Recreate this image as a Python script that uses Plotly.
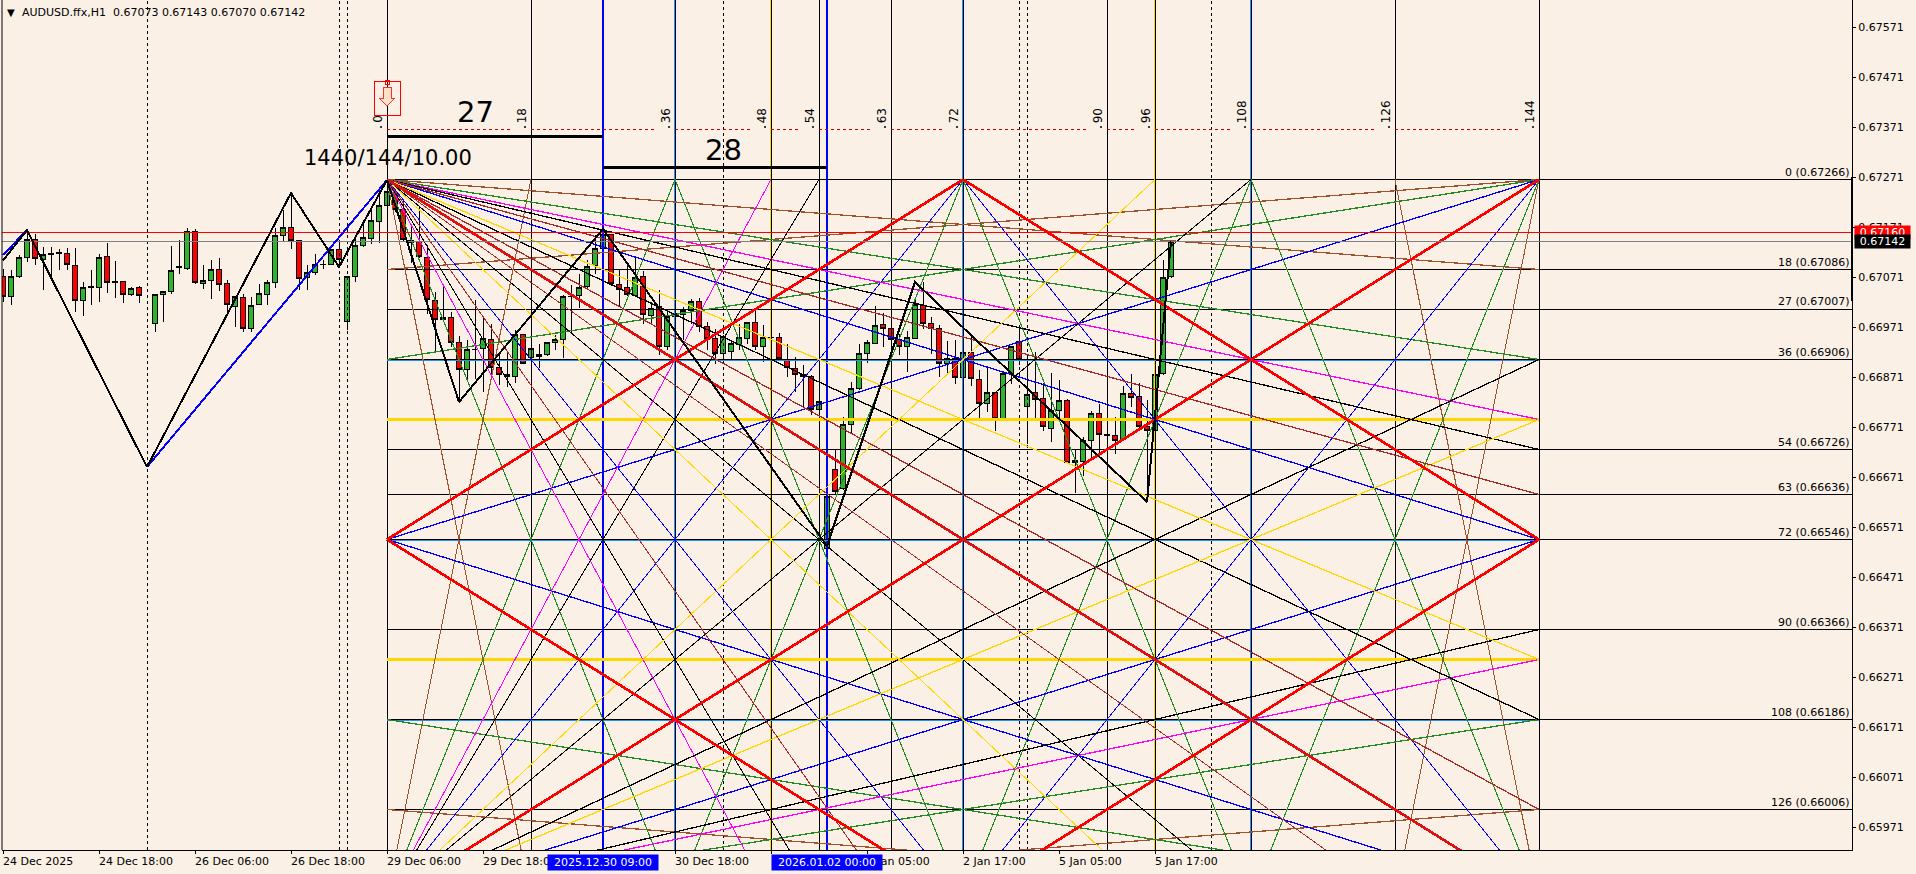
import plotly.graph_objects as go

# ---------- candles (price in 1e-5 units, H1 bars) ----------
opens = [67072,67032,67072,67110,67146,67106,67117,67120,67118,67094,67024,67051,67050,67112,67062,67062,67036,67050,None,
66978,67036,67042,67091,67089,67162,67058,67064,67086,67058,67012,67030,66968,67016,67036,67060,67154,67170,67144,67070,67080,67096,67096,67126,
66982,67072,67134,67148,67182,67214,67240,67206,67145,67143,67110,67024,66986,66991,66940,66886,66926,66928,66946,66890,66876,66872,66956,66910,
66916,66916,66940,66946,67032,67034,67052,67094,67128,67156,67056,67050,67034,67072,66995,67012,66932,66992,66997,67004,67022,66972,66948,66918,
66922,66937,66948,66980,66933,66950,66950,66906,66888,66876,66872,66806,66528,66686,66648,66776,66848,66918,66938,66976,66968,66946,66932,66949,
67014,66978,66968,66898,66908,66870,66920,66866,66818,66840,66788,66878,66942,66813,66841,66828,66768,66804,66824,66700,66702,66745,66798,66756,
66754,66746,66838,66832,66772,66765,66878,67073]
highs = [67088,67085,67115,67165,67158,67132,67132,67128,67130,67130,67062,67086,67118,67140,67103,67062,67052,67053,None,
67038,67044,67133,67145,67170,67168,67096,67105,67109,67066,67034,67037,67032,67057,67065,67170,67205,67238,67146,67096,67117,67105,67128,67145,
67074,67150,67178,67205,67235,67265,67245,67225,67172,67212,67135,67042,67052,67002,66953,66946,67025,66992,66978,66922,66922,66966,66958,66932,
66938,66942,66955,67035,67055,67078,67105,67155,67166,67158,67085,67097,67112,67084,67021,67045,67002,66998,67012,67028,67030,66982,66968,66955,
66945,66978,66982,67005,66975,66972,66960,66937,66912,66895,66875,66825,66640,66726,66792,66862,66938,66946,67013,66999,66972,66958,66963,67025,
67062,66992,66975,66944,66945,66928,66952,66886,66890,66840,66880,66933,66970,66915,66922,66860,66880,66866,66828,66728,66752,66804,66818,66757,
66792,66853,66877,66860,66825,66878,67105,67143]
lows = [67022,67015,67070,67102,67095,67045,67072,67085,67085,67002,66993,67015,67022,67040,67030,67020,67034,67020,None,
66962,66982,67038,67077,67085,67058,67047,67027,67044,66995,66972,66962,66962,67015,67015,67050,67144,67127,67046,67045,67076,67088,67095,67093,
66965,67062,67132,67138,67140,67214,67202,67142,67100,67110,66998,66922,66982,66932,66822,66865,66868,66842,66872,66855,66852,66860,66898,66895,
66890,66913,66925,66910,66958,67010,67048,67078,67125,67053,67013,67033,67032,66977,66975,66915,66925,66932,66945,66978,66962,66925,66898,66908,
66908,66925,66938,66925,66902,66922,66905,66872,66842,66812,66795,66805,66512,66637,66646,66758,66846,66900,66937,66932,66922,66915,66882,66948,
66968,66918,66872,66875,66858,66868,66854,66786,66802,66764,66785,66858,66895,66738,66788,66764,66742,66785,66698,66640,66673,66705,66715,66753,
66718,66745,66812,66770,66625,66764,66875,67070]
closes = [67032,67073,67110,67146,67108,67116,67118,67119,67096,67024,67050,67052,67110,67060,67061,67036,67048,67034,None,
67037,67042,67084,67092,67162,67060,67064,67086,67056,67016,67032,66968,67014,67038,67060,67154,67170,67144,67068,67080,67096,67097,67126,67106,
67072,67134,67150,67184,67214,67242,67206,67146,67141,67113,67026,66986,66991,66940,66886,66926,66927,66948,66890,66876,66872,66956,66898,66928,
66912,66940,66947,67032,67033,67050,67092,67128,67156,67058,67046,67036,67070,66996,67008,66932,66992,66998,67004,67022,66973,66948,66918,66952,
66938,66950,66980,66933,66950,66951,66908,66890,66876,66872,66806,66822,66633,66642,66776,66848,66918,66941,66974,66968,66946,66932,66950,67017,
66978,66968,66898,66908,66870,66920,66868,66818,66840,66788,66878,66932,66906,66837,66826,66773,66804,66824,66700,66704,66745,66798,66756,66754,
66745,66838,66830,66772,66765,66876,67070,67142]

# ---------- zigzag ----------
zig_bars = [0,3,18,36,42,48,57,75,103,114,143,146]
zig_prices = [67104,67165,66691,67239,67091,67265,66821,67167,66533,67061,66621,67142]
blue_bars = [0,3,None,18,48]
blue_prices = [67115,67165,None,66691,67265]

# ---------- Gann square (bars from start, levels down from top) ----------
START_BAR = 48
TOP_PRICE = 67266
SIDE = 144
corner_ratios = {"#A0522D": [18], "#228B22": [36], "#0000FF": [72]}
left_ratios = {"#FF00FF": [48], "#000000": [54, 108], "#FFD700": [96]}
origin_ratios = {"#A52A2A": [63, 126]}
green_inner = [(36,0,72,144),(72,0,36,144),(72,0,108,144),(108,0,72,144)]
diamond = [(0,72,72,0),(72,0,144,72),(144,72,72,144),(72,144,0,72),(144,0,0,144)]
main_diagonal = (0,0,144,144)

vert_black = [0,18,54,63,90,108,126,144,36,72]
vert_dodger = [36,72,108]
vert_gold = [48,96]
vert_blue = [27,55]
dashed_bars = [18,42,43,90,127,128,151]
cycle_numbers = [0,18,36,48,54,63,72,90,96,108,126,144]
level_names = [0,18,27,36,54,63,72,90,108,126]
level_prices = [67266,67086,67007,66906,66726,66636,66546,66366,66186,66006]
dodger_levels = [66906,66546,66186]
gold_levels = [66786,66306]
support_price = 67160
last_price = 67142
y_ticks = [67571,67471,67371,67271,67171,67071,66971,66871,66771,66671,66571,66471,66371,66271,66171,66071,65971]
x_tick_bars = [0,12,24,36,48,60,72,84,96,108,120,132,144]
x_tick_text = ["24 Dec 2025","24 Dec 18:00","26 Dec 06:00","26 Dec 18:00","29 Dec 06:00","29 Dec 18:00","30 Dec 06:00",
               "30 Dec 18:00","31 Dec 06:00","2 Jan 05:00","2 Jan 17:00","5 Jan 05:00","5 Jan 17:00"]
number_price = 67377
dot_price = 67371
red_dash_price = 67366
bar27_price = 67352
bar28_price = 67290
X_MIN, X_MAX = -0.125, 231.125
Y_TOP, Y_BOT = 67625, 65925
FONT = "DejaVu Sans"
BG = "#FAF0E6"
DODGER = "#1E90FF"


def px(v):
    return None if v is None else v / 1e5


def bx(b):
    return None if b is None else b + START_BAR


def lv(l):
    return (TOP_PRICE - 10 * l) / 1e5


def segs(pairs):
    xs, ys = [], []
    for a, b, c, d in pairs:
        xs += [bx(a), bx(c), None]
        ys += [lv(b), lv(d), None]
    return xs, ys


def fan(r, corners):
    out = []
    if "tl" in corners:
        out += [(0, 0, SIDE, r), (0, 0, r, SIDE)]
    if "bl" in corners:
        out += [(0, SIDE, r, 0), (0, SIDE, SIDE, SIDE - r)]
    if "tr" in corners:
        out += [(SIDE, 0, 0, r), (SIDE, 0, SIDE - r, SIDE)]
    if "br" in corners:
        out += [(SIDE, SIDE, 0, SIDE - r), (SIDE, SIDE, SIDE - r, 0)]
    return out


fig = go.Figure()


def add_line(xs, ys, color, width, dash="solid", clip=True):
    fig.add_trace(go.Scatter(x=xs, y=ys, mode="lines", line=dict(color=color, width=width, dash=dash),
                             hoverinfo="skip", showlegend=False, connectgaps=False, cliponaxis=clip))


def add_fan(pairs, color):
    steep = [s for s in pairs if abs(s[3] - s[1]) > abs(s[2] - s[0])]
    shallow = [s for s in pairs if abs(s[3] - s[1]) <= abs(s[2] - s[0])]
    xs, ys = segs(steep)
    add_line(xs, ys, color, 1)
    xs, ys = segs(shallow)
    add_line(xs, ys, color, 1.3)


y_full = [Y_BOT / 1e5, Y_TOP / 1e5]


def verticals(bars, color, width, offset=True):
    xs, ys = [], []
    for b in bars:
        v = bx(b) if offset else b
        xs += [v, v, None]
        ys += y_full + [None]
    add_line(xs, ys, color, width)


# dashed verticals
xs, ys = [], []
for b in dashed_bars:
    xs += [b, b, None]
    ys += y_full + [None]
add_line(xs, ys, "#000000", 1, "3px,3px")

verticals(vert_dodger, DODGER, 2)
verticals(vert_gold, "#FFD700", 2)
verticals(vert_black + vert_gold, "#000000", 1)
verticals(vert_blue, "#0000FF", 2.5)

# levels
xs, ys = [], []
for p in dodger_levels:
    xs += [bx(0), bx(SIDE), None]
    ys += [p / 1e5, p / 1e5, None]
add_line(xs, ys, DODGER, 2)
xs, ys = [], []
for p in gold_levels:
    xs += [bx(0), bx(SIDE), None]
    ys += [p / 1e5, p / 1e5, None]
add_line(xs, ys, "#FFD700", 2.5)
xs, ys = [], []
for p in level_prices:
    xs += [bx(0), X_MAX, None]
    ys += [p / 1e5, p / 1e5, None]
add_line(xs, ys, "#000000", 1)

# fans
for color, rs in corner_ratios.items():
    pairs = []
    for r in rs:
        pairs += fan(r, ["tl", "bl", "tr", "br"])
    if color == "#228B22":
        pairs += green_inner
    add_fan(pairs, color)
for color, rs in left_ratios.items():
    pairs = []
    for r in rs:
        pairs += fan(r, ["tl", "bl"])
    add_fan(pairs, color)
for color, rs in origin_ratios.items():
    pairs = []
    for r in rs:
        pairs += fan(r, ["tl"])
    add_fan(pairs, color)

xs, ys = segs(diamond)
add_line(xs, ys, "#FF0000", 2.7)
xs, ys = segs([main_diagonal])
add_line(xs, ys, "#E01010", 2.7)

# price lines
add_line([X_MIN, X_MAX], [support_price / 1e5] * 2, "#FF0000", 1)
add_line([X_MIN, X_MAX], [last_price / 1e5] * 2, "#808080", 1)

# zigzag
add_line([b for b in blue_bars], [px(p) for p in blue_prices], "#0000FF", 2)
add_line(zig_bars, [px(p) for p in zig_prices], "#000000", 2)

# candles
fig.add_trace(go.Candlestick(
    x=[None if o is None else i for i, o in enumerate(opens)],
    open=[px(v) for v in opens], high=[px(v) for v in highs],
    low=[px(v) for v in lows], close=[px(v) for v in closes],
    increasing=dict(fillcolor="#2DB52D", line=dict(color="#000000", width=1)),
    decreasing=dict(fillcolor="#FF0000", line=dict(color="#000000", width=1)),
    whiskerwidth=0, hoverinfo="skip", showlegend=False))

# cycle header: thick bars, red dashes, dots
add_line([bx(0), bx(27)], [px(bar27_price)] * 2, "#000000", 3)
add_line([bx(27), bx(55)], [px(bar28_price)] * 2, "#000000", 3)
xs, ys = [], []
for a, b in zip(cycle_numbers[:-1], cycle_numbers[1:]):
    xs += [bx(a), bx(b) - 2.4, None]
    ys += [px(red_dash_price), px(red_dash_price), None]
add_line(xs, ys, "#CC0000", 1, "3px,3px")
fig.add_trace(go.Scatter(x=[bx(b) - 0.75 for b in cycle_numbers], y=[px(dot_price)] * len(cycle_numbers), mode="markers",
                         marker=dict(size=2, color="#000000"), hoverinfo="skip", showlegend=False))

# arrow object
arrow_x = [47.5, 48.5, 48.5, 49, 48, 47, 47.5, 47.5]
arrow_y = [67451, 67451, 67429, 67429, 67413, 67429, 67429, 67451]
fig.add_trace(go.Scatter(x=arrow_x, y=[px(v) for v in arrow_y], mode="lines", fill="toself", fillcolor="#FFE0C8",
                         line=dict(color="#FF3030", width=1), hoverinfo="skip", showlegend=False))
box_x = [46.375, 49.71, 49.71, 46.375, 46.375]
box_y = [67463, 67463, 67394, 67394, 67463]
add_line(box_x, [px(v) for v in box_y], "#FF0000", 1)
sq_x = [47.75, 48.25, 48.25, 47.75, 47.75]
sq_y = [67465, 67465, 67457, 67457, 67465]
add_line(sq_x, [px(v) for v in sq_y], "#FF0000", 1)

# axis marker bar on right
fig.add_trace(go.Scatter(x=[X_MAX, X_MAX], y=[0.67271, 0.67023], mode="lines", line=dict(color="#000000", width=3),
                         cliponaxis=False, hoverinfo="skip", showlegend=False))

ann = []
W, H = 1850.0, 850.0


def pfx(x):
    return (x - 2) / W


def pfy(y):
    return 1 - y / H


for b, t in zip(x_tick_bars, x_tick_text):
    ann.append(dict(x=b, y=0, xref="x", yref="paper", text=t, xanchor="left", yanchor="top", yshift=-4, xshift=-1, showarrow=False,
                    font=dict(family=FONT, size=11, color="#000000"), borderpad=0))
for b, t in zip([bx(27), bx(55)], ["2025.12.30 09:00", "2026.01.02 00:00"]):
    ann.append(dict(x=b, y=0, xref="x", yref="paper", text=t, xanchor="center", yanchor="top", yshift=-4, showarrow=False,
                    bgcolor="#0000FF", width=110, height=15, font=dict(family=FONT, size=11, color="#FFFFFF"), borderpad=0))
for n, p in zip(level_names, level_prices):
    ann.append(dict(x=1, y=p / 1e5, xref="paper", yref="y", text=f"{n} (0.{p})", xanchor="right", yanchor="bottom", showarrow=False,
                    font=dict(family=FONT, size=11, color="#000000"), borderpad=0, xshift=-1))
for n in cycle_numbers:
    ann.append(dict(x=bx(n) - 1.15, y=px(number_price), xref="x", yref="y", text=str(n), textangle=-90, xanchor="center",
                    yanchor="bottom", showarrow=False, font=dict(family=FONT, size=12, color="#000000"), borderpad=0))
for t, xp, yp, sz in [("27", 475, 112, 29), ("28", 723, 150, 29), ("1440/144/10.00", 388, 158, 21)]:
    ann.append(dict(x=pfx(xp), y=pfy(yp), xref="paper", yref="paper", text=t, xanchor="center", yanchor="middle", showarrow=False,
                    font=dict(family=FONT, size=sz, color="#000000"), borderpad=0))
ann.append(dict(x=pfx(20), y=pfy(12), xref="paper", yref="paper", text="AUDUSD.ffx,H1  0.67073 0.67143 0.67070 0.67142", xanchor="left",
                yanchor="middle", showarrow=False, font=dict(family=FONT, size=11, color="#000000")))
ann.append(dict(x=pfx(11), y=pfy(12), xref="paper", yref="paper", text="▼", xanchor="center", yanchor="middle", showarrow=False, font=dict(family=FONT, size=10, color="#000000")))
ann.append(dict(x=pfx(1854), y=px(support_price), xref="paper", yref="y", text=f"0.{support_price}", xanchor="left", showarrow=False, bgcolor="#FF0000", width=55, height=13,
                font=dict(family=FONT, size=11, color="#FFFFFF"), borderpad=0))
ann.append(dict(x=pfx(1854), y=px(last_price), xref="paper", yref="y", text=f"0.{last_price}", xanchor="left", showarrow=False, bgcolor="#000000", width=55, height=13,
                font=dict(family=FONT, size=11, color="#FFFFFF"), borderpad=0))

fig.update_layout(
    width=1916, height=874, autosize=False, margin=dict(l=2, r=64, t=0, b=24),
    paper_bgcolor=BG, plot_bgcolor=BG, showlegend=False, boxgap=0.05, annotations=ann,
    xaxis=dict(range=[X_MIN, X_MAX], rangeslider=dict(visible=False), showgrid=False, zeroline=False, tickmode="array",
               tickvals=x_tick_bars, showticklabels=False, ticks="outside", ticklen=3, tickcolor="#000000", showline=True,
               linecolor="#000000", linewidth=1),
    yaxis=dict(range=[Y_BOT / 1e5, Y_TOP / 1e5], side="right", showgrid=False, zeroline=False, tickmode="array",
               tickvals=[v / 1e5 for v in y_ticks], ticktext=[f"0.{v}" for v in y_ticks], ticks="outside", ticklen=3,
               tickcolor="#000000", showline=True, linecolor="#000000", linewidth=1,
               tickfont=dict(family=FONT, size=11, color="#000000")),
    shapes=[dict(type="line", xref="paper", yref="paper", x0=0, x1=0, y0=0, y1=1, line=dict(color="#000000", width=1))],
)

post = """
document.body.style.margin='0';
document.documentElement.style.overflow='hidden';
document.querySelectorAll('.scatterlayer path.js-line, .boxlayer path, .trace.boxes path').forEach(function(p){p.style.shapeRendering='crispEdges';});
"""
fig.write_html("out.html", post_script=post, config=dict(displayModeBar=False))
